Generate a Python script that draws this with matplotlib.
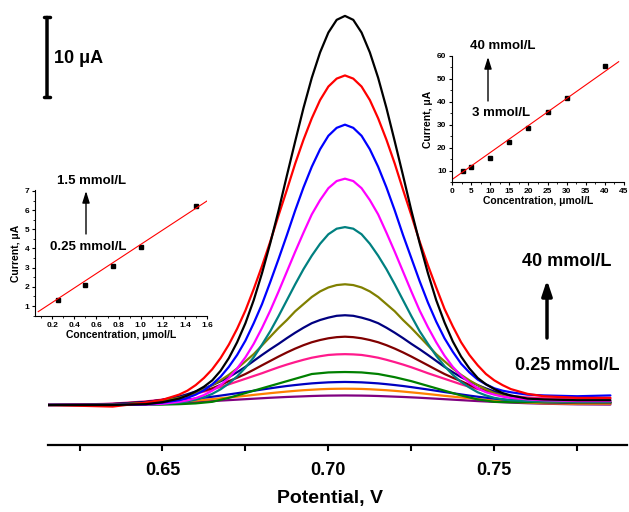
import numpy as np
import matplotlib
matplotlib.use('Agg')
import matplotlib.pyplot as plt
from matplotlib.patches import FancyArrowPatch
from matplotlib.ticker import MultipleLocator

plt.rcParams['font.family'] = ['Liberation Sans', 'DejaVu Sans']
plt.rcParams['font.weight'] = 'bold'

# ---- main DPV curves (potential in V, current in uA above baseline) ----
potential = [0.615, 0.625, 0.635, 0.645, 0.650, 0.655, 0.6575, 0.660, 0.6625, 0.665,
             0.6675, 0.670, 0.6725, 0.675, 0.6775, 0.680, 0.6825, 0.685, 0.6875, 0.690,
             0.6925, 0.695, 0.6975, 0.700, 0.7025, 0.705, 0.7075, 0.710, 0.7125, 0.715,
             0.7175, 0.720, 0.7225, 0.725, 0.7275, 0.730, 0.7325, 0.735, 0.7375, 0.740,
             0.7425, 0.745, 0.7475, 0.750, 0.7525, 0.755, 0.760, 0.765, 0.775, 0.785]

c_purple = [0, 0.03, 0.08, 0.16, 0.22, 0.30, 0.35, 0.39, 0.44, 0.49, 0.55, 0.61, 0.67, 0.73, 0.79,
            0.85, 0.91, 0.96, 1.01, 1.05, 1.09, 1.13, 1.16, 1.18, 1.19, 1.2,
            1.19, 1.18, 1.16, 1.13, 1.09, 1.05, 1.01, 0.96, 0.91, 0.85, 0.79, 0.73, 0.67, 0.61,
            0.55, 0.49, 0.44, 0.39, 0.35, 0.30, 0.22, 0.16, 0.08, 0.05]
c_orange = [0, 0.03, 0.09, 0.21, 0.30, 0.42, 0.49, 0.56, 0.65, 0.74, 0.84, 0.94, 1.05, 1.15, 1.27,
            1.38, 1.49, 1.59, 1.69, 1.78, 1.86, 1.92, 1.98, 2.02, 2.04, 2.05,
            2.04, 2.02, 1.98, 1.92, 1.86, 1.78, 1.69, 1.59, 1.49, 1.38, 1.27, 1.15, 1.05, 0.94,
            0.84, 0.74, 0.65, 0.56, 0.49, 0.42, 0.30, 0.21, 0.15, 0.15]
c_blue2 = [0, 0.05, 0.13, 0.29, 0.42, 0.59, 0.69, 0.8, 0.92, 1.04, 1.18, 1.33, 1.48, 1.63, 1.79,
           1.95, 2.1, 2.25, 2.39, 2.51, 2.62, 2.72, 2.79, 2.85, 2.88, 2.9,
           2.88, 2.85, 2.79, 2.72, 2.62, 2.51, 2.39, 2.25, 2.1, 1.95, 1.79, 1.63, 1.48, 1.33,
           1.18, 1.04, 0.92, 0.8, 0.7, 0.6, 0.45, 0.35, 0.25, 0.25]
c_green = [0, 0, 0, 0.02, 0.05, 0.1, 0.15, 0.2, 0.3, 0.4, 0.65, 0.9, 1.2, 1.5, 1.8,
           2.1, 2.4, 2.7, 3.0, 3.3, 3.6, 3.9, 4.0, 4.1, 4.13, 4.15,
           4.13, 4.1, 4.0, 3.9, 3.7, 3.5, 3.25, 3.0, 2.7, 2.4, 2.1, 1.8, 1.5, 1.2,
           0.95, 0.7, 0.55, 0.4, 0.37, 0.35, 0.35, 0.35, 0.35, 0.35]
c_pink = [0, 0.05, 0.17, 0.45, 0.68, 1.0, 1.2, 1.43, 1.68, 1.96, 2.27, 2.6, 2.95, 3.3, 3.65,
          4.0, 4.38, 4.75, 5.09, 5.4, 5.69, 5.95, 6.14, 6.3, 6.37, 6.4,
          6.37, 6.3, 6.14, 5.95, 5.69, 5.4, 5.09, 4.75, 4.38, 4.0, 3.65, 3.3, 2.95, 2.6,
          2.29, 2.0, 1.74, 1.5, 1.31, 1.15, 0.95, 0.85, 0.8, 0.8]
c_brown = [0, 0.03, 0.12, 0.38, 0.62, 0.98, 1.22, 1.5, 1.8, 2.1, 2.53, 3.0, 3.43, 3.9, 4.44,
           5.0, 5.55, 6.1, 6.62, 7.1, 7.53, 7.9, 8.18, 8.4, 8.54, 8.6,
           8.54, 8.4, 8.18, 7.9, 7.53, 7.1, 6.62, 6.1, 5.55, 5.0, 4.44, 3.9, 3.43, 3.0,
           2.53, 2.1, 1.8, 1.5, 1.23, 1.0, 0.65, 0.45, 0.3, 0.3]
c_navy = [0, 0, 0.11, 0.37, 0.64, 1.06, 1.36, 1.7, 2.08, 2.5, 2.98, 3.5, 4.13, 4.8, 5.55,
          6.3, 7.02, 7.7, 8.42, 9.1, 9.73, 10.3, 10.7, 11.0, 11.23, 11.3,
          11.23, 11.0, 10.7, 10.3, 9.73, 9.1, 8.42, 7.7, 7.02, 6.3, 5.55, 4.8, 4.13, 3.5,
          2.98, 2.5, 2.08, 1.7, 1.38, 1.1, 0.7, 0.45, 0.3, 0.3]
c_olive = [0, 0, 0.06, 0.26, 0.5, 0.9, 1.18, 1.5, 1.96, 2.5, 3.1, 3.8, 4.6, 5.5, 6.4,
           7.5, 8.6, 9.7, 10.7, 11.8, 12.7, 13.6, 14.3, 14.8, 15.1, 15.2,
           15.1, 14.8, 14.3, 13.6, 12.7, 11.8, 10.7, 9.7, 8.6, 7.5, 6.4, 5.5, 4.6, 3.8,
           3.1, 2.5, 1.96, 1.5, 1.2, 0.9, 0.55, 0.4, 0.3, 0.3]
c_teal = [0, 0, 0, 0.05, 0.12, 0.3, 0.45, 0.67, 0.98, 1.4, 1.97, 2.7, 3.6, 4.7, 6.0,
          7.6, 9.3, 11.2, 13.2, 15.2, 17.1, 18.8, 20.3, 21.5, 22.2, 22.4,
          22.2, 21.5, 20.3, 18.8, 17.1, 15.2, 13.2, 11.2, 9.3, 7.7, 6.2, 4.9, 3.8, 2.9,
          2.2, 1.6, 1.2, 0.9, 0.72, 0.6, 0.5, 0.45, 0.4, 0.4]
c_magenta = [0, 0, 0, 0.05, 0.15, 0.4, 0.58, 0.86, 1.25, 1.8, 2.5, 3.4, 4.6, 6.0, 7.7,
             9.7, 11.9, 14.3, 16.8, 19.3, 21.7, 24.0, 25.8, 27.3, 28.2, 28.5,
             28.2, 27.3, 25.8, 24.0, 21.7, 19.3, 16.8, 14.3, 11.9, 9.8, 7.9, 6.2, 4.8, 3.7,
             2.8, 2.1, 1.6, 1.3, 1.05, 0.9, 0.7, 0.6, 0.5, 0.5]
c_blue = [0, 0, 0, 0.1, 0.3, 0.6, 0.9, 1.3, 1.85, 2.6, 3.55, 4.8, 6.3, 8.1, 10.3,
          12.7, 15.5, 18.4, 21.4, 24.5, 27.4, 30.0, 32.2, 33.9, 34.9, 35.3,
          34.9, 33.9, 32.2, 30.0, 27.4, 24.5, 21.4, 18.5, 15.6, 12.9, 10.5, 8.4, 6.7, 5.2,
          4.1, 3.2, 2.6, 2.1, 1.8, 1.6, 1.3, 1.2, 1.1, 1.2]
c_red = [0, -0.1, -0.2, 0.3, 0.65, 1.3, 1.8, 2.5, 3.4, 4.5, 5.9, 7.6, 9.6, 11.9, 14.6,
         17.5, 20.6, 23.9, 27.1, 30.4, 33.4, 36.1, 38.4, 40.1, 41.1, 41.5,
         41.1, 40.1, 38.4, 36.1, 33.4, 30.4, 27.1, 23.9, 20.6, 17.6, 14.8, 12.1, 9.9, 7.9,
         6.3, 5.0, 3.9, 3.1, 2.5, 2.0, 1.4, 1.1, 0.9, 0.9]
c_black = [0, 0, 0, 0.1, 0.35, 0.8, 1.2, 1.7, 2.3, 3.1, 4.3, 5.9, 7.9, 10.3, 13.2,
           16.6, 20.4, 24.5, 28.9, 33.2, 37.4, 41.2, 44.4, 46.9, 48.5, 49.0,
           48.5, 46.9, 44.4, 41.2, 37.4, 33.2, 28.9, 24.5, 20.4, 16.6, 13.2, 10.4, 8.0, 6.1,
           4.6, 3.4, 2.6, 2.0, 1.5, 1.2, 0.8, 0.7, 0.6, 0.6]

curves = [c_purple, c_orange, c_blue2, c_green, c_pink, c_brown, c_navy,
          c_olive, c_teal, c_magenta, c_blue, c_red, c_black]
colors = ['#800080', '#FF8000', '#0000C0', '#008000', '#FF1A8C', '#800000', '#000080',
          '#808000', '#008080', '#FF00FF', '#0000FF', '#FF0000', '#000000']

x_ticks = [0.65, 0.70, 0.75]
x_tick_labels = ['0.65', '0.70', '0.75']
x_minor = [0.625, 0.675, 0.725, 0.775]

# ---- inset calibration data ----
low_conc = [0.25, 0.5, 0.75, 1.0, 1.5]
low_curr = [1.34, 2.12, 3.07, 4.10, 6.19]
low_fit = (3.78, 0.43)          # slope, intercept

high_conc = [3, 5, 10, 15, 20, 25, 30, 40]
high_curr = [9.85, 11.45, 15.5, 22.6, 28.7, 35.4, 41.8, 55.6]
high_fit = (1.18, 6.06)

scale_bar = 10  # uA

W, H = 629, 512
fig = plt.figure(figsize=(W / 100, H / 100), dpi=100)


def px_box(x0, y0, x1, y1):
    # pixel box (top-left origin) -> figure fraction rect
    return [x0 / W, 1 - y1 / H, (x1 - x0) / W, (y1 - y0) / H]


def fpos(x, y):
    return (x / W, 1 - y / H)


def arrow(p0, p1, lw, hl, hw):
    fig.add_artist(FancyArrowPatch(fpos(*p0), fpos(*p1), transform=fig.transFigure,
                                   arrowstyle=f'-|>,head_length={hl},head_width={hw}',
                                   lw=lw, color='k', mutation_scale=1, shrinkA=0, shrinkB=0))


ax = fig.add_axes(px_box(48, 0, 627, 445))
for c, col in zip(curves, colors):
    ax.plot(potential, c, color=col, lw=1.6, solid_capstyle='round')
ax.set_xlim(0.6155, 0.790)
ax.set_ylim(-5.04, 51.0)
for s in ['left', 'right', 'top']:
    ax.spines[s].set_visible(False)
ax.spines['bottom'].set_linewidth(1.6)
ax.set_yticks([])
ax.set_xticks(x_ticks)
ax.set_xticklabels(x_tick_labels, fontsize=13, fontweight='bold')
ax.set_xticks(x_minor, minor=True)
ax.tick_params(axis='x', which='both', direction='out', length=4, width=1.5, pad=8)
fig.text(330 / W, 1 - 498 / H, 'Potential, V', ha='center', va='center',
         fontsize=14, fontweight='bold')

# scale bar
ax.annotate('', xy=(0.6152, 48.8), xytext=(0.6152, 48.8 - scale_bar),
            arrowprops=dict(arrowstyle='|-|,widthA=0.25,widthB=0.25', lw=2.5, color='k',
                            shrinkA=0, shrinkB=0), annotation_clip=False)
ax.text(0.6172, 43.6, '10 μA', ha='left', va='center', fontsize=13, fontweight='bold')

# concentration arrow at right
fig.text(*fpos(567, 261), '40 mmol/L', ha='center', va='center', fontsize=13, fontweight='bold')
fig.text(*fpos(567, 365), '0.25 mmol/L', ha='center', va='center', fontsize=13, fontweight='bold')
arrow((547, 338), (547, 280), 2.5, 9, 3)


def style_inset(a):
    for s in ['right', 'top']:
        a.spines[s].set_visible(False)
    for s in ['left', 'bottom']:
        a.spines[s].set_linewidth(0.8)
    a.tick_params(which='major', direction='out', length=2.5, width=0.8, labelsize=6, pad=1.5)
    a.tick_params(which='minor', direction='out', length=1.5, width=0.6)
    for lab in a.get_xticklabels() + a.get_yticklabels():
        lab.set_fontweight('bold')
    a.patch.set_alpha(0)


# low-concentration inset
ax1 = fig.add_axes(px_box(35, 190, 207, 316))
ax1.plot(low_conc, low_curr, 's', color='k', ms=3.5)
xf = np.array([0.073, 1.6])
ax1.plot(xf, low_fit[0] * xf + low_fit[1], color='red', lw=0.8)
ax1.set_xlim(0.044, 1.6)
ax1.set_ylim(0.48, 7.05)
ax1.xaxis.set_major_locator(MultipleLocator(0.2))
ax1.xaxis.set_minor_locator(MultipleLocator(0.1))
ax1.yaxis.set_major_locator(MultipleLocator(1))
ax1.yaxis.set_minor_locator(MultipleLocator(0.5))
ax1.set_xlabel('Concentration, μmol/L', fontsize=7.5, fontweight='bold', labelpad=1)
ax1.set_ylabel('Current, μA', fontsize=7.5, fontweight='bold', labelpad=3)
style_inset(ax1)
fig.text(*fpos(92, 181), '1.5 mmol/L', ha='center', va='center', fontsize=9.5, fontweight='bold')
fig.text(*fpos(88, 247), '0.25 mmol/L', ha='center', va='center', fontsize=9.5, fontweight='bold')
arrow((86, 234), (86, 191), 1.0, 7, 2.2)

# high-concentration inset
ax2 = fig.add_axes(px_box(452, 56, 624, 182))
ax2.plot(high_conc, high_curr, 's', color='k', ms=3.5)
xf2 = np.array([0, 43.6])
ax2.plot(xf2, high_fit[0] * xf2 + high_fit[1], color='red', lw=0.8)
ax2.set_xlim(0, 45)
ax2.set_ylim(5, 60)
ax2.xaxis.set_major_locator(MultipleLocator(5))
ax2.xaxis.set_minor_locator(MultipleLocator(2.5))
ax2.yaxis.set_major_locator(MultipleLocator(10))
ax2.yaxis.set_minor_locator(MultipleLocator(5))
ax2.set_xlabel('Concentration, μmol/L', fontsize=7.5, fontweight='bold', labelpad=1)
ax2.set_ylabel('Current, μA', fontsize=7.5, fontweight='bold', labelpad=3)
style_inset(ax2)
fig.text(*fpos(503, 46), '40 mmol/L', ha='center', va='center', fontsize=9.5, fontweight='bold')
fig.text(*fpos(501, 113), '3 mmol/L', ha='center', va='center', fontsize=9.5, fontweight='bold')
arrow((488, 101), (488, 57), 1.0, 7, 2.2)

fig.savefig('out.png', dpi=100)
